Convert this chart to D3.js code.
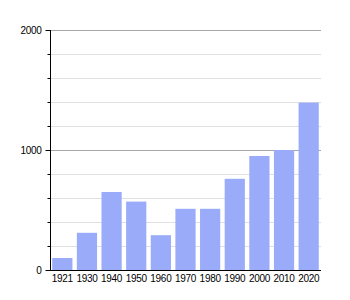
<!DOCTYPE html>
<html><head><meta charset="utf-8">
<script src="https://cdn.jsdelivr.net/npm/d3@7"></script>
<style>body{margin:0;background:#fff}</style>
</head><body>
<svg id="c" width="350" height="300"></svg>
<script>
const years = ["1921","1930","1940","1950","1960","1970","1980","1990","2000","2010","2020"];
const population = [100,310,650,570,290,510,510,760,950,1000,1395];
const majorTicks = [0,1000,2000];
const minorTicks = [200,400,600,800,1200,1400,1600,1800];

(function(){
const svg = d3.select("#c");
const mLeft = 50, mRight = 321, mTop = 30, mBottom = 270;
const x = d3.scaleBand().domain(years).range([mLeft, mRight]).paddingInner(0.18).paddingOuter(0.09);
const y = d3.scaleLinear().domain([0,2000]).range([mBottom, mTop]);
const font = "Liberation Sans, Arial, sans-serif";

// minor grid
svg.append("g").selectAll("line").data(minorTicks).join("line")
  .attr("x1", mLeft).attr("x2", mRight)
  .attr("y1", d=>y(d)+0.5).attr("y2", d=>y(d)+0.5)
  .attr("stroke", "#e0e0e0").attr("stroke-width", 1);
// major grid
svg.append("g").selectAll("line").data(majorTicks.slice(1)).join("line")
  .attr("x1", mLeft).attr("x2", mRight)
  .attr("y1", d=>y(d)+0.5).attr("y2", d=>y(d)+0.5)
  .attr("stroke", "#a8a8a8").attr("stroke-width", 1);

// bars
svg.append("g").selectAll("rect").data(population).join("rect")
  .attr("x", (d,i)=>x(years[i]))
  .attr("width", x.bandwidth())
  .attr("y", d=>y(d))
  .attr("height", d=>mBottom - y(d))
  .attr("fill", "#9aabfa");

// y axis
const ya = svg.append("g").attr("transform", `translate(${mLeft+0.5},0)`)
  .call(d3.axisLeft(y).tickValues(majorTicks).tickSize(5).tickPadding(4).tickFormat(d3.format("d")));
ya.select(".domain").remove();
ya.selectAll("text").attr("font-family", font).attr("font-size", 10).attr("letter-spacing", "-0.3px").attr("fill", "#000");
ya.selectAll("line").attr("stroke", "#000");
svg.append("g").attr("transform", `translate(${mLeft+0.5},0)`)
  .call(d3.axisLeft(y).tickValues(minorTicks).tickSize(3).tickFormat(""))
  .call(g=>g.select(".domain").remove())
  .selectAll("line").attr("stroke", "#000");
svg.append("line").attr("x1", mLeft+0.5).attr("x2", mLeft+0.5).attr("y1", mTop).attr("y2", mBottom+0.5)
  .attr("stroke", "#000");

// x axis
const xa = svg.append("g").attr("transform", `translate(0,${mBottom+0.5})`)
  .call(d3.axisBottom(x).tickSize(0).tickPadding(4));
xa.select(".domain").attr("d", `M${mLeft},0H${mRight}`).attr("stroke", "#000");
xa.selectAll("text").attr("font-family", font).attr("font-size", 10).attr("letter-spacing", "-0.3px").attr("fill", "#000");
})();
</script>
</body></html>
